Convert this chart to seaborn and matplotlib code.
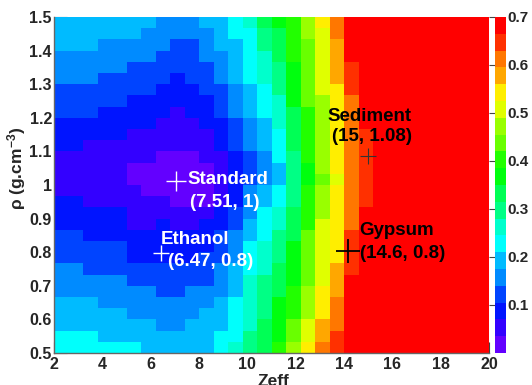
import colorsys
import numpy as np
import pandas as pd
import matplotlib
matplotlib.use("Agg")
import matplotlib.pyplot as plt
from matplotlib.colors import ListedColormap, BoundaryNorm
from matplotlib.ticker import FixedLocator
import seaborn as sns

# ---------------- data ----------------
x_min, x_max, n_x = 2.0, 20.0, 30          # Zeff axis, 30 bins
y_min, y_max, n_y = 0.5, 1.5, 30           # density axis, 30 bins
z_max, n_levels = 0.7, 20                  # colour scale, 20 contour bands

# band index (0..19) of every cell, top row (rho=1.5) first, Zeff 2 -> 20
band_rows = [
    [5,5,5,5,5,5,5,4,4,4,5,5,6,7,9,10,11,13,15,17,19,19,19,19,19,19,19,19,19,19],
    [5,5,5,5,5,5,4,4,4,4,4,5,6,6,8,9,11,13,14,17,19,19,19,19,19,19,19,19,19,19],
    [5,5,5,4,4,4,4,4,3,3,4,5,5,6,8,9,11,12,14,16,19,19,19,19,19,19,19,19,19,19],
    [4,4,4,4,4,4,4,3,3,3,4,4,5,6,7,9,11,12,14,16,19,19,19,19,19,19,19,19,19,19],
    [4,4,4,4,4,3,3,3,3,3,3,4,5,6,7,8,10,12,14,16,18,19,19,19,19,19,19,19,19,19],
    [4,4,4,3,3,3,3,3,2,3,3,4,5,6,7,8,10,12,14,16,18,19,19,19,19,19,19,19,19,19],
    [3,3,3,3,3,3,3,2,2,2,3,3,4,5,6,8,10,12,14,15,18,19,19,19,19,19,19,19,19,19],
    [3,3,3,3,3,2,2,2,2,2,2,3,4,5,6,7,10,12,13,15,17,19,19,19,19,19,19,19,19,19],
    [3,3,3,2,2,2,2,2,1,2,2,3,4,5,6,7,9,11,13,15,17,19,19,19,19,19,19,19,19,19],
    [2,2,2,2,2,2,2,1,1,1,2,2,3,4,5,7,9,11,13,15,17,19,19,19,19,19,19,19,19,19],
    [2,2,2,2,2,1,1,1,1,1,1,2,3,4,5,6,9,11,13,15,17,18,19,19,19,19,19,19,19,19],
    [2,2,1,1,1,1,1,1,1,1,1,2,3,4,5,6,9,11,13,15,17,18,19,19,19,19,19,19,19,19],
    [1,1,1,1,1,1,1,0,0,0,1,1,2,3,4,6,8,11,13,15,17,18,19,19,19,19,19,19,19,19],
    [1,1,1,1,1,0,0,0,0,0,0,1,2,3,4,5,8,10,13,15,17,18,19,19,19,19,19,19,19,19],
    [1,1,1,1,1,0,0,0,0,0,0,1,2,3,4,5,8,10,12,14,17,18,19,19,19,19,19,19,19,19],
    [1,1,1,1,1,1,0,0,0,0,0,1,2,4,5,6,8,11,13,15,17,18,19,19,19,19,19,19,19,19],
    [2,2,1,1,1,1,1,1,0,0,0,1,2,4,5,6,8,11,13,15,17,18,19,19,19,19,19,19,19,19],
    [2,2,2,2,2,1,1,1,1,1,1,2,3,4,6,7,9,11,13,15,17,19,19,19,19,19,19,19,19,19],
    [2,2,2,2,2,1,1,2,1,1,2,2,3,5,6,7,9,11,14,15,17,19,19,19,19,19,19,19,19,19],
    [3,3,2,2,2,2,2,2,2,2,2,3,4,5,6,8,9,12,14,15,18,19,19,19,19,19,19,19,19,19],
    [3,3,3,3,3,2,2,2,2,2,2,3,4,6,7,8,10,12,14,15,18,19,19,19,19,19,19,19,19,19],
    [3,3,3,3,3,2,2,2,2,2,3,3,4,6,7,8,10,12,14,15,18,19,19,19,19,19,19,19,19,19],
    [4,4,3,3,3,3,3,3,3,3,3,4,5,6,7,9,10,12,14,16,18,19,19,19,19,19,19,19,19,19],
    [4,4,4,4,4,3,3,3,3,3,3,4,5,7,8,9,10,12,14,16,19,19,19,19,19,19,19,19,19,19],
    [4,4,4,4,4,4,4,3,3,4,4,4,5,7,8,9,11,13,15,16,19,19,19,19,19,19,19,19,19,19],
    [5,5,5,4,4,4,4,4,4,4,4,5,6,7,8,10,11,13,15,17,19,19,19,19,19,19,19,19,19,19],
    [5,5,5,5,5,4,4,4,4,4,5,5,6,7,8,10,11,13,15,17,19,19,19,19,19,19,19,19,19,19],
    [5,5,5,5,5,5,5,4,4,5,5,5,6,7,9,10,12,14,16,17,19,19,19,19,19,19,19,19,19,19],
    [6,6,6,5,5,5,5,5,5,5,5,6,6,8,9,10,12,14,16,18,19,19,19,19,19,19,19,19,19,19],
    [6,6,6,6,6,6,5,5,5,5,5,6,7,8,9,11,13,15,17,18,19,19,19,19,19,19,19,19,19,19],
]

cbar_ticks = [0.1, 0.2, 0.3, 0.4, 0.5, 0.6, 0.7]
x_ticks = [2, 4, 6, 8, 10, 12, 14, 16, 18, 20]
y_ticks = [0.5, 0.6, 0.7, 0.8, 0.9, 1.0, 1.1, 1.2, 1.3, 1.4, 1.5]
y_tick_labels = ["0.5", "0.6", "0.7", "0.8", "0.9", "1", "1.1", "1.2", "1.3", "1.4", "1.5"]

marker_names = ["Standard", "Ethanol", "Sediment", "Gypsum"]
marker_labels = ["(7.51, 1)", "(6.47, 0.8)", "(15, 1.08)", "(14.6, 0.8)"]
marker_x = [7.05, 6.43, 14.99, 14.16]
marker_y = [1.012, 0.797, 1.086, 0.804]

# ---------------- build table ----------------
band_w = z_max / n_levels
z = (np.array(band_rows, dtype=float) + 0.5) * band_w
dx = (x_max - x_min) / n_x
dy = (y_max - y_min) / n_y
x_centers = [round(x_min + dx * (i + 0.5), 3) for i in range(n_x)]
y_centers = [round(y_max - dy * (j + 0.5), 4) for j in range(n_y)]
df = pd.DataFrame(z, index=y_centers, columns=x_centers)

# ROOT "pretty" palette (50 hues, 20 contours picked from it)
cols = []
for k in range(n_levels):
    idx = int((k + 0.99) * 50 / n_levels)
    hue = 280.0 - (idx + 1) * 280.0 / 50
    cols.append(colorsys.hls_to_rgb(hue / 360.0, 0.5, 1.0))
cmap = ListedColormap(cols)
bounds = np.linspace(0, z_max, n_levels + 1)
norm = BoundaryNorm(bounds, cmap.N)

# ---------------- figure ----------------
sns.set_style("white")
plt.rcParams["font.family"] = ["Liberation Sans", "DejaVu Sans"]
plt.rcParams["font.weight"] = "bold"
plt.rcParams["mathtext.fontset"] = "custom"
plt.rcParams["mathtext.rm"] = "Liberation Sans:bold"
plt.rcParams["mathtext.bf"] = "Liberation Sans:bold"
plt.rcParams["mathtext.it"] = "Liberation Sans:bold"

W, H = 532, 385
fig = plt.figure(figsize=(W / 100, H / 100), dpi=100)
L, R, T, B = 54, 489, 17, 353
ax = fig.add_axes([L / W, 1 - B / H, (R - L) / W, (B - T) / H])
cax = fig.add_axes([495 / W, 1 - B / H, 11 / W, (B - T) / H])

sns.heatmap(df, ax=ax, cmap=cmap, norm=norm, cbar=True, cbar_ax=cax,
            xticklabels=False, yticklabels=False, linewidths=0)

def fx(v):
    return (v - x_min) / dx

def fy(v):
    return (y_max - v) / dy

ax.set_xlim(0, n_x)
ax.set_ylim(n_y, 0)
ax.xaxis.set_major_locator(FixedLocator([fx(v) for v in x_ticks]))
ax.set_xticklabels([str(v) for v in x_ticks])
ax.xaxis.set_minor_locator(FixedLocator([fx(2 + 0.5 * i) for i in range(37)]))
ax.yaxis.set_major_locator(FixedLocator([fy(v) for v in y_ticks]))
ax.set_yticklabels(y_tick_labels)
ax.yaxis.set_minor_locator(FixedLocator([fy(0.5 + 0.02 * i) for i in range(51)]))
ax.set_xlabel("")
ax.set_ylabel("")

tick_col = "#444444"
ax.tick_params(axis="x", which="major", direction="in", length=8, width=0.8,
               color=tick_col, bottom=True, top=False, labelsize=11.5, pad=3)
ax.tick_params(axis="x", which="minor", direction="in", length=4, width=0.8,
               color=tick_col, bottom=True, top=False)
ax.tick_params(axis="y", which="major", direction="in", length=9.5, width=0.8,
               color=tick_col, left=True, right=False, labelsize=11.5, pad=1.5)
ax.tick_params(axis="y", which="minor", direction="in", length=5, width=0.8,
               color=tick_col, left=True, right=False)
for lab in ax.get_xticklabels() + ax.get_yticklabels():
    lab.set_fontweight("bold")
for s in ["left", "bottom"]:
    ax.spines[s].set_visible(True)
    ax.spines[s].set_color("#666666")
    ax.spines[s].set_linewidth(1.0)
for s in ["top", "right"]:
    ax.spines[s].set_visible(False)

# colour bar
cax.set_ylim(0, z_max)
cax.yaxis.set_major_locator(FixedLocator(cbar_ticks))
cax.yaxis.set_minor_locator(FixedLocator([]))
cax.set_yticklabels([f"{v:.1f}" for v in cbar_ticks])
cax.tick_params(axis="y", which="major", left=True, right=False, labelleft=False,
                labelright=True, direction="out", length=4, width=0.8,
                color=tick_col, labelsize=11, pad=-2.8)
for lab in cax.get_yticklabels():
    lab.set_fontweight("bold")
for s in cax.spines.values():
    s.set_visible(False)

# markers and labels
text_pos = {
    "Standard": [(7.54, 1.015), (7.63, 0.949)],
    "Ethanol": [(6.43, 0.839), (6.72, 0.771)],
    "Sediment": [(13.30, 1.205), (13.50, 1.143)],
    "Gypsum": [(14.62, 0.866), (14.66, 0.795)],
}
text_col = {"Standard": "white", "Ethanol": "white", "Sediment": "black", "Gypsum": "black"}
mk_size = {"Standard": 14, "Ethanol": 11, "Sediment": 12, "Gypsum": 17}
mk_lw = {"Standard": 1.0, "Ethanol": 1.0, "Sediment": 0.8, "Gypsum": 1.3}
mk_col = {"Standard": "white", "Ethanol": "white", "Sediment": "#333333", "Gypsum": "black"}
for name, lab, mx, my in zip(marker_names, marker_labels, marker_x, marker_y):
    ax.plot(fx(mx), fy(my), marker="+", ms=mk_size[name], mew=mk_lw[name],
            color=mk_col[name], ls="none", zorder=5)
    (tx1, ty1), (tx2, ty2) = text_pos[name]
    ax.text(fx(tx1), fy(ty1), name, color=text_col[name], fontsize=13.5,
            fontweight="bold", ha="left", va="center", zorder=6)
    ax.text(fx(tx2), fy(ty2), lab, color=text_col[name], fontsize=13.5,
            fontweight="bold", ha="left", va="center", zorder=6)

fig.text(17 / W, 1 - 168 / H, r"$\rho$ (g.cm$^{-3}$)", rotation=90,
         ha="center", va="center", fontsize=12.5, fontweight="bold")
fig.text(273 / W, 1 - 374 / H, "Zeff", ha="center", va="top",
         fontsize=12.5, fontweight="bold")

fig.savefig("out.png", dpi=100)
